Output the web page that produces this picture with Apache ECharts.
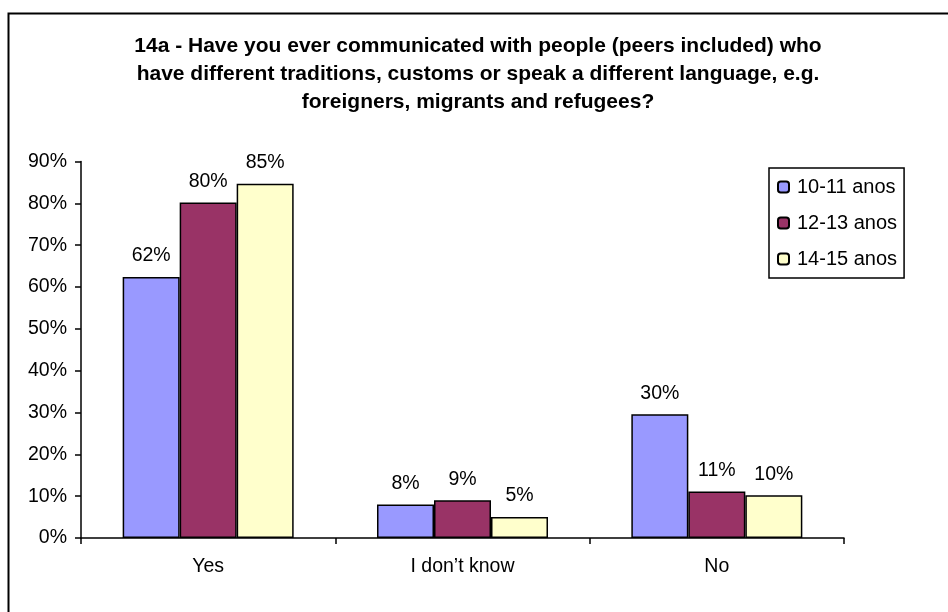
<!DOCTYPE html>
<html>
<head>
<meta charset="utf-8">
<script src="https://cdn.jsdelivr.net/npm/echarts@6/dist/echarts.min.js"></script>
<style>html,body{margin:0;padding:0;background:#fff}#c{width:948px;height:612px}</style>
</head>
<body>
<div id="c"></div>
<script>
var categories = ["Yes", "I don\u2019t know", "No"];
var seriesNames = ["10-11 anos", "12-13 anos", "14-15 anos"];
var s1011 = [0.624, 0.08, 0.296];
var s1213 = [0.802, 0.09, 0.111];
var s1415 = [0.847, 0.05, 0.102];
var colors = ["#9999FF", "#993366", "#FFFFCC"];
var titleText = "14a - Have you ever communicated with people (peers included) who\nhave different traditions, customs or speak a different language, e.g.\nforeigners, migrants and refugees?";

var FONT = "Liberation Sans, Arial, sans-serif";
var chart = echarts.init(document.getElementById('c'), null, {renderer: 'canvas'});
function mk(name, data, color) {
  return {
    name: name, type: 'bar', data: data, barWidth: 57, barGap: '0%',
    itemStyle: {color: color, borderColor: '#000', borderWidth: 1.5},
    label: {show: true, position: 'top', distance: 11, color: '#000', fontFamily: FONT, fontSize: 19.5,
      formatter: function(p){ return Math.round(p.value*100) + '%'; }}
  };
}
chart.setOption({
  animation: false,
  backgroundColor: '#fff',
  title: {
    text: titleText, left: 473, top: 27, textAlign: 'center',
    textStyle: {fontFamily: FONT, fontSize: 21, fontWeight: 'bold', color: '#000', lineHeight: 28}
  },
  graphic: [{
    type: 'rect', shape: {x: 8.5, y: 13.5, width: 1000, height: 700},
    style: {fill: 'none', stroke: '#000', lineWidth: 2}, silent: true, z: -1
  }],
  legend: {
    orient: 'vertical', left: 769, top: 168, data: seriesNames,
    itemWidth: 11, itemHeight: 11, itemGap: 16,
    padding: [9, 7, 9, 8], borderColor: '#000', borderWidth: 1.5,
    textStyle: {fontFamily: FONT, fontSize: 20, color: '#000', padding: [0, 0, 0, 3]}
  },
  grid: {left: 81, right: 104, top: 161.5, bottom: 74},
  xAxis: {
    type: 'category', data: categories,
    axisLine: {lineStyle: {color: '#000', width: 1.5}},
    axisTick: {show: true, length: 6, lineStyle: {color: '#000', width: 1.5}},
    axisLabel: {fontFamily: FONT, fontSize: 19.5, color: '#000', margin: 19}
  },
  yAxis: {
    type: 'value', min: 0, max: 0.9, interval: 0.1,
    axisLine: {show: true, lineStyle: {color: '#000', width: 1.5}},
    axisTick: {show: true, length: 6, lineStyle: {color: '#000', width: 1.5}},
    splitLine: {show: false},
    axisLabel: {fontFamily: FONT, fontSize: 19.5, color: '#000', margin: 14,
      formatter: function(v){ return Math.round(v*100) + '%'; }}
  },
  series: [mk(seriesNames[0], s1011, colors[0]), mk(seriesNames[1], s1213, colors[1]), mk(seriesNames[2], s1415, colors[2])]
});
</script>
</body>
</html>
